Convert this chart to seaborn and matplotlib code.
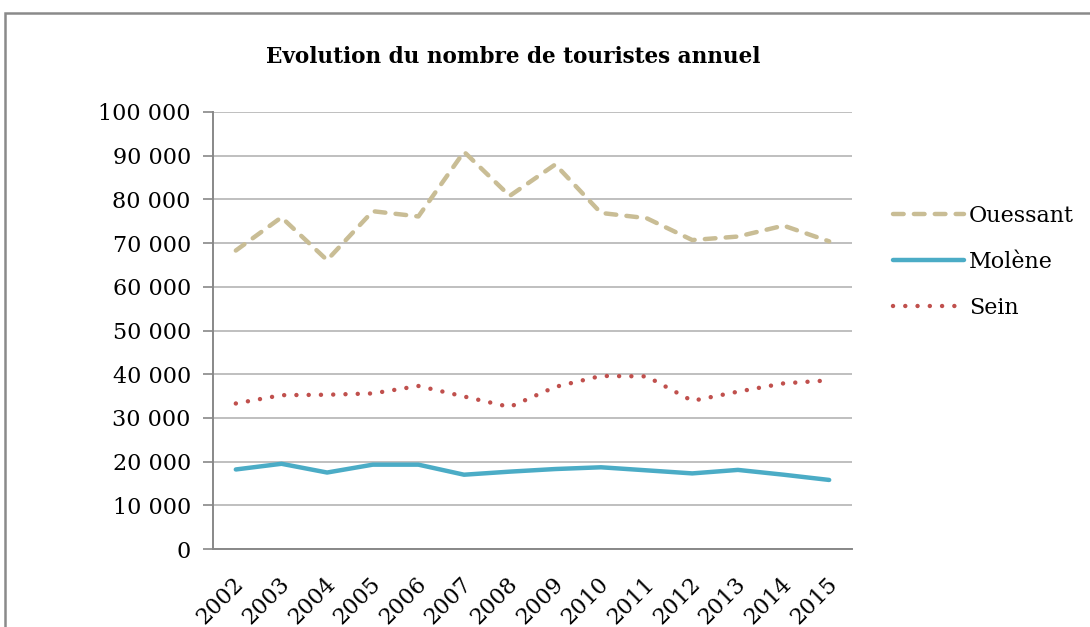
import matplotlib
matplotlib.use("Agg")
import matplotlib.pyplot as plt
import seaborn as sns
import pandas as pd
import numpy as np
from matplotlib.patches import Rectangle
from matplotlib.ticker import FuncFormatter, MultipleLocator
import matplotlib.transforms as mtransforms

years = ["2002", "2003", "2004", "2005", "2006", "2007", "2008", "2009",
         "2010", "2011", "2012", "2013", "2014", "2015"]
ouessant = [68300, 75900, 66100, 77300, 76100, 90900, 80800, 88000,
            76900, 75700, 70700, 71500, 74000, 70400]
molene = [18200, 19500, 17500, 19300, 19300, 17000, 17700, 18300,
          18700, 18000, 17300, 18100, 17000, 15800]
sein = [33300, 35200, 35300, 35600, 37300, 34900, 32500, 37100,
        39600, 39500, 33900, 36000, 37900, 38600]

sns.set_theme(style="white")
plt.rcParams["font.family"] = ["DejaVu Serif"]
plt.rcParams["text.color"] = "black"
plt.rcParams["xtick.color"] = "black"
plt.rcParams["ytick.color"] = "black"

x = np.arange(len(years))
df = pd.DataFrame({"x": np.tile(x, 3),
                   "val": ouessant + molene + sein,
                   "serie": ["Ouessant"] * 14 + ["Molène"] * 14 + ["Sein"] * 14})

fig = plt.figure(figsize=(10.9, 6.27), dpi=100)
ax = fig.add_axes([213 / 1090, 1 - 549 / 627, (852 - 213) / 1090, (549 - 112) / 627])

colors = {"Ouessant": "#C9BD95", "Molène": "#4BACC6", "Sein": "#C0504D"}
styles = {"Ouessant": (0, (2.4, 2.3)), "Molène": "-", "Sein": (0, (0.01, 2.75))}
for s in ["Ouessant", "Molène", "Sein"]:
    sub = df[df["serie"] == s]
    sns.lineplot(data=sub, x="x", y="val", ax=ax, color=colors[s], lw=3.2,
                 linestyle=styles[s], dash_capstyle="round", solid_capstyle="round",
                 label=s)

ax.set_xlim(-0.5, len(years) - 0.5)
ax.set_ylim(0, 100000)
ax.yaxis.set_major_locator(MultipleLocator(10000))
ax.yaxis.set_major_formatter(FuncFormatter(lambda v, p: f"{int(v):,}".replace(",", " ")))
ax.set_xticks(x)
ax.set_xticklabels(years, rotation=45, ha="right", rotation_mode="anchor")
ax.set_xticks(np.arange(-0.5, len(years)), minor=True)
ax.tick_params(axis="x", which="major", length=0, labelsize=16, pad=17, labelcolor="black")
ax.tick_params(axis="x", which="minor", length=6, width=1.2, color="#888888", direction="out")
ax.tick_params(axis="y", which="major", length=7, width=1.2, color="#888888",
               direction="out", left=True, labelsize=16, pad=9, labelcolor="black")
ax.set_xlabel("")
ax.set_ylabel("")
ax.grid(axis="y", color="#ADADAD", lw=1.1)
ax.set_axisbelow(True)
for sp in ["top", "right"]:
    ax.spines[sp].set_visible(False)
for sp in ["left", "bottom"]:
    ax.spines[sp].set_color("#888888")
    ax.spines[sp].set_linewidth(1.4)

for lbl in ax.get_xticklabels():
    lbl.set_transform(lbl.get_transform() + mtransforms.ScaledTranslation(-3 / 100, 0, fig.dpi_scale_trans))

leg = ax.legend(loc="center left", bbox_to_anchor=(893 / 1090, 1 - 262 / 627),
                bbox_transform=fig.transFigure, frameon=False, borderpad=0,
                borderaxespad=0, fontsize=16, handlelength=3.2,
                handletextpad=0.22, labelspacing=1.08)
for t in leg.get_texts():
    t.set_color("black")

fig.text(0.4706, 1 - 57 / 627, "Evolution du nombre de touristes annuel",
         ha="center", va="center", fontsize=15.5, fontweight="bold", color="black")

fig.patches.append(Rectangle((5 / 1090, -0.2), 1.2, 0.2 + 1 - 13 / 627,
                             transform=fig.transFigure, fill=False,
                             edgecolor="#8A8A8A", lw=1.8))

fig.savefig("out.png", dpi=100)
